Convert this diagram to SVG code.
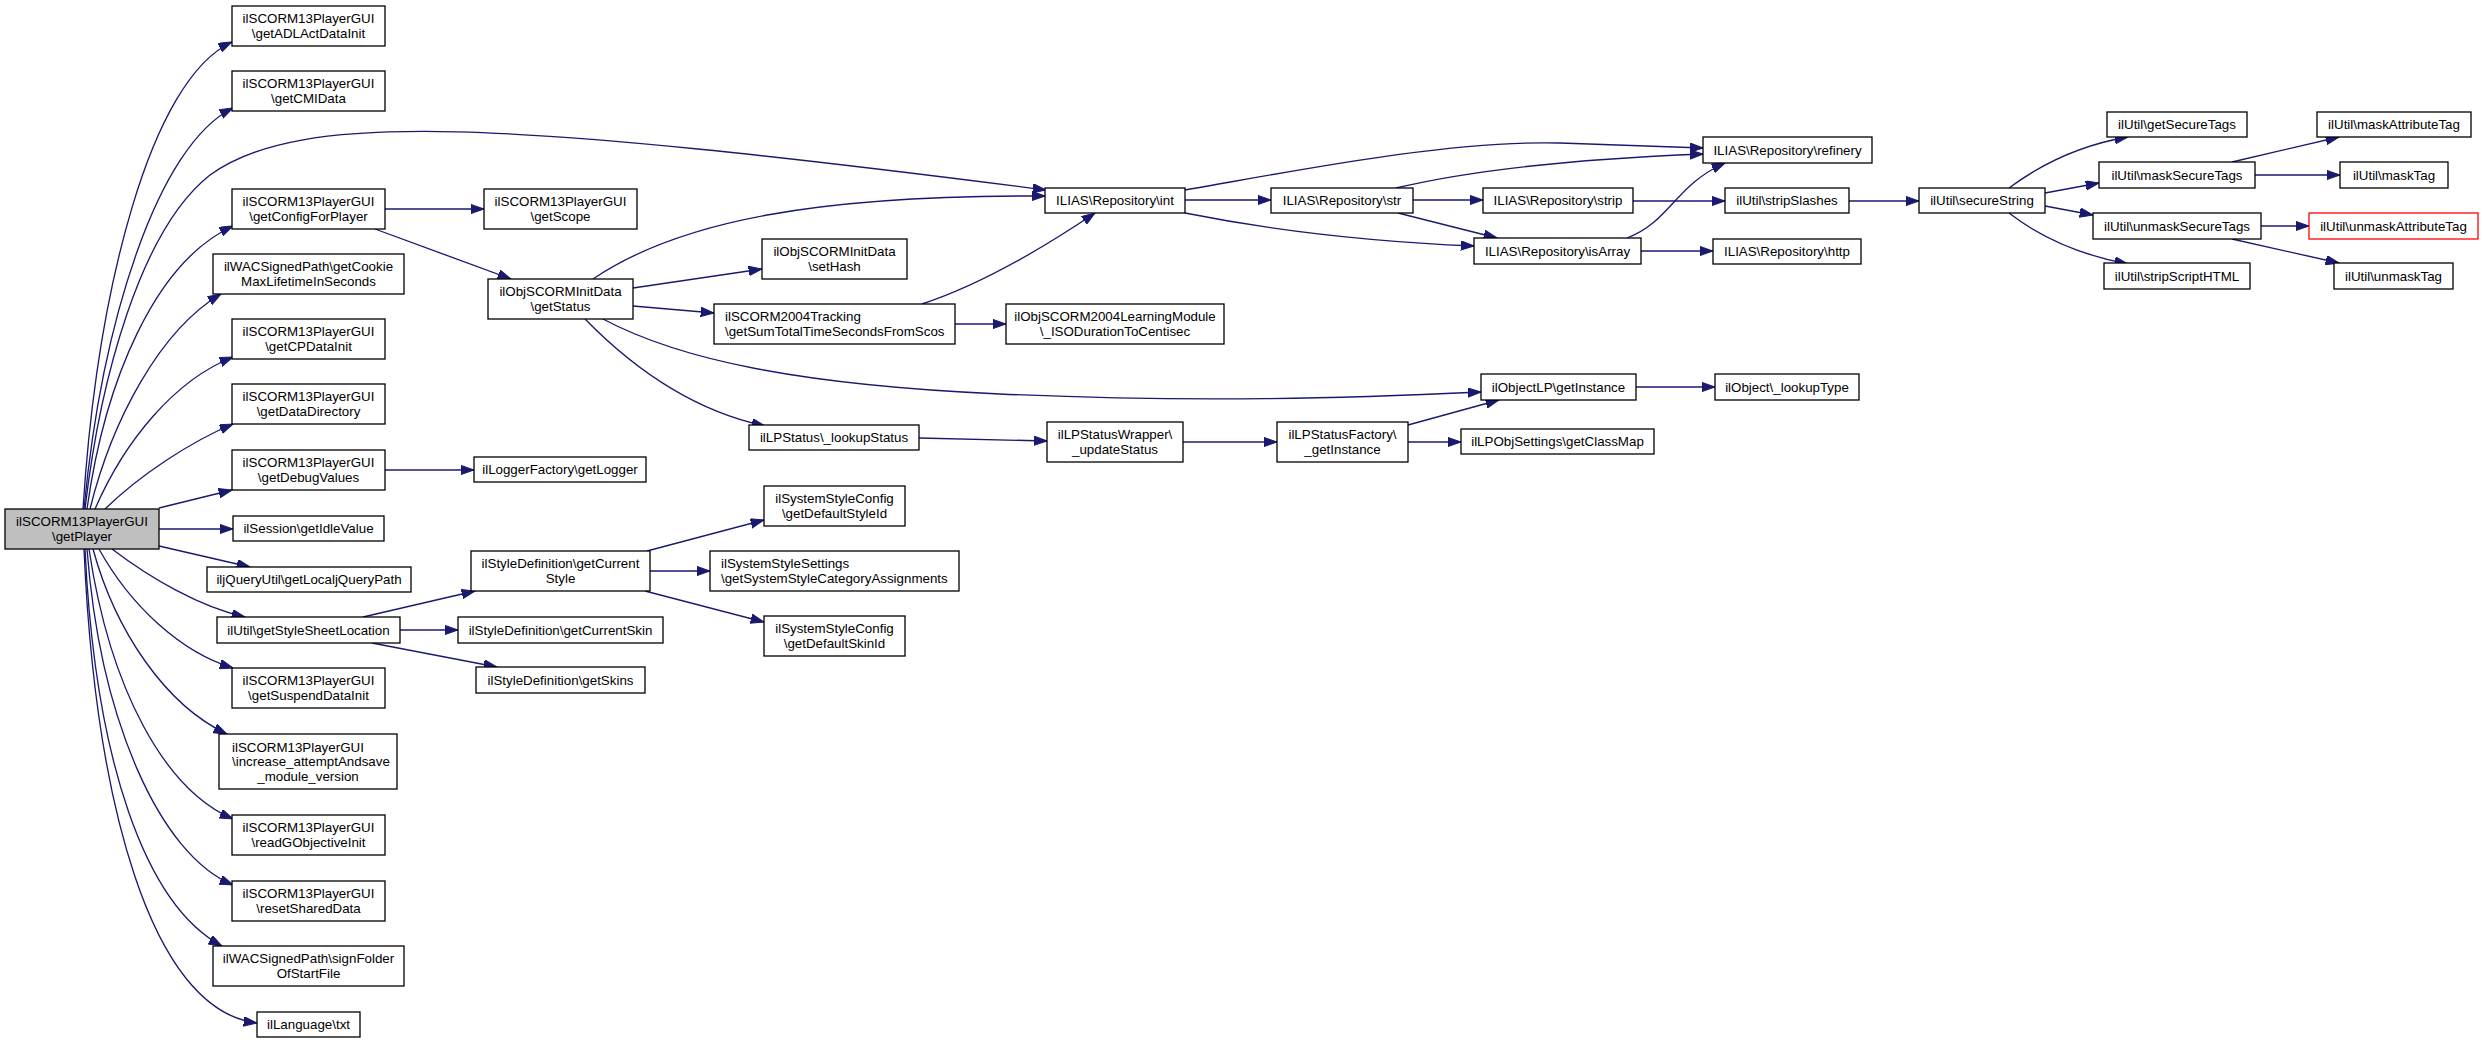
<svg xmlns="http://www.w3.org/2000/svg" width="2484" height="1043" viewBox="0 0 2484 1043">
<style>
.n rect{fill:#fff;stroke:#000;stroke-width:1.3}
.n.root rect{fill:#bfbfbf}
.n.red rect{stroke:#f00}
text{font-family:"Liberation Sans",Arial,Helvetica,sans-serif;font-size:13.33px;fill:#000}
.c{text-anchor:middle}
.e path{fill:none;stroke:#191970;stroke-width:1.33;marker-end:url(#arr)}
</style>
<defs>
<marker id="arr" markerUnits="userSpaceOnUse" viewBox="0 0 14 10" markerWidth="14" markerHeight="10" refX="13.3" refY="4.7" orient="auto">
<path d="M0,0 L13.3,4.7 L0,9.4 z" fill="#191970" stroke="#191970" stroke-width="1"/>
</marker>
</defs>
<rect width="2484" height="1043" fill="#fff"/>
<g class="e" id="edges">
<path d="M83,509 C97,290 150,80 232,42"/>
<path d="M84,509 C102,320 158,145 233,108"/>
<path d="M85,509 C100,380 140,230 210,175 C300,110 500,120 1046,190"/>
<path d="M87,509 C105,380 155,262 233,226"/>
<path d="M90,509 C112,420 160,330 221,294"/>
<path d="M95,509 C125,440 175,380 233,357"/>
<path d="M105,509 C140,475 190,442 233,424"/>
<path d="M159,508 L232,490"/>
<path d="M159,529 L233,529"/>
<path d="M159,546 L250,567"/>
<path d="M112,549 C150,578 200,607 245,617"/>
<path d="M99,549 C130,605 180,652 233,668"/>
<path d="M93,549 C115,630 165,705 227,734"/>
<path d="M89,549 C110,690 165,790 233,819"/>
<path d="M87,549 C100,720 160,855 233,885"/>
<path d="M85,549 C95,760 145,905 222,946"/>
<path d="M84,549 C95,800 150,1010 257,1023"/>
<path d="M385,209 L484,209"/>
<path d="M375,229 L511,279"/>
<path d="M593,279 C680,220 820,195 1045,196"/>
<path d="M633,288 L762,269"/>
<path d="M633,306 L714,313"/>
<path d="M603,319 C680,360 800,385 1000,394 C1200,403 1350,398 1481,392"/>
<path d="M585,319 C630,365 690,410 765,426"/>
<path d="M385,470 L474,470"/>
<path d="M363,617 L475,591"/>
<path d="M400,630 L458,630"/>
<path d="M372,643 L497,667"/>
<path d="M647,551 L764,520"/>
<path d="M650,571 L710,571"/>
<path d="M645,591 L764,622"/>
<path d="M922,304 C980,285 1040,250 1095,213"/>
<path d="M955,324 L1006,324"/>
<path d="M919,438 L1047,441"/>
<path d="M1185,200 L1271,200"/>
<path d="M1185,190 C1300,170 1450,140 1560,143 C1620,145 1670,147 1703,148"/>
<path d="M1185,213 C1280,232 1380,242 1474,246"/>
<path d="M1183,442 L1277,442"/>
<path d="M1413,200 L1483,200"/>
<path d="M1396,188 C1480,168 1600,158 1703,154"/>
<path d="M1398,213 L1497,238"/>
<path d="M1408,425 L1499,400"/>
<path d="M1408,442 L1461,442"/>
<path d="M1633,201 L1725,201"/>
<path d="M1627,238 C1670,222 1675,185 1725,163"/>
<path d="M1641,251 L1713,251"/>
<path d="M1636,387 L1715,387"/>
<path d="M1849,201 L1919,201"/>
<path d="M2009,188 C2040,165 2080,145 2128,137"/>
<path d="M2045,193 L2099,183"/>
<path d="M2045,206 L2093,215"/>
<path d="M2009,213 C2040,237 2080,255 2128,264"/>
<path d="M2232,162 L2339,137"/>
<path d="M2255,175 L2340,175"/>
<path d="M2261,226 L2309,226"/>
<path d="M2232,239 L2339,263"/>
</g>
<g class="n root" id="n_getPlayer"><rect x="5" y="509" width="154" height="40"/><text class="c" x="82" y="526">ilSCORM13PlayerGUI</text><text class="c" x="82" y="540.5">\getPlayer</text></g>
<g class="n" id="n_getADLActDataInit"><rect x="232" y="6" width="153" height="40"/><text class="c" x="308.5" y="23">ilSCORM13PlayerGUI</text><text class="c" x="308.5" y="37.5">\getADLActDataInit</text></g>
<g class="n" id="n_getCMIData"><rect x="232" y="71" width="153" height="40"/><text class="c" x="308.5" y="88">ilSCORM13PlayerGUI</text><text class="c" x="308.5" y="102.5">\getCMIData</text></g>
<g class="n" id="n_getConfigForPlayer"><rect x="232" y="189" width="153" height="40"/><text class="c" x="308.5" y="206">ilSCORM13PlayerGUI</text><text class="c" x="308.5" y="220.5">\getConfigForPlayer</text></g>
<g class="n" id="n_getCookie"><rect x="213" y="254" width="191" height="40"/><text class="c" x="308.5" y="271">ilWACSignedPath\getCookie</text><text class="c" x="308.5" y="285.5">MaxLifetimeInSeconds</text></g>
<g class="n" id="n_getCPDataInit"><rect x="232" y="319" width="153" height="40"/><text class="c" x="308.5" y="336">ilSCORM13PlayerGUI</text><text class="c" x="308.5" y="350.5">\getCPDataInit</text></g>
<g class="n" id="n_getDataDirectory"><rect x="232" y="384" width="153" height="40"/><text class="c" x="308.5" y="401">ilSCORM13PlayerGUI</text><text class="c" x="308.5" y="415.5">\getDataDirectory</text></g>
<g class="n" id="n_getDebugValues"><rect x="232" y="450" width="153" height="40"/><text class="c" x="308.5" y="467">ilSCORM13PlayerGUI</text><text class="c" x="308.5" y="481.5">\getDebugValues</text></g>
<g class="n" id="n_getIdleValue"><rect x="233" y="516" width="151" height="25"/><text class="c" x="308.5" y="533">ilSession\getIdleValue</text></g>
<g class="n" id="n_getLocaljQueryPath"><rect x="207" y="567" width="204" height="25"/><text class="c" x="309" y="584">iljQueryUtil\getLocaljQueryPath</text></g>
<g class="n" id="n_getStyleSheetLocation"><rect x="217" y="617" width="183" height="26"/><text class="c" x="308.5" y="634.5">ilUtil\getStyleSheetLocation</text></g>
<g class="n" id="n_getSuspendDataInit"><rect x="232" y="668" width="153" height="40"/><text class="c" x="308.5" y="685">ilSCORM13PlayerGUI</text><text class="c" x="308.5" y="699.5">\getSuspendDataInit</text></g>
<g class="n" id="n_increase"><rect x="219" y="734" width="178" height="55"/><text x="232" y="751.5">ilSCORM13PlayerGUI</text><text x="232" y="766">\increase_attemptAndsave</text><text class="c" x="308" y="780.5">_module_version</text></g>
<g class="n" id="n_readGObjectiveInit"><rect x="232" y="815" width="153" height="40"/><text class="c" x="308.5" y="832">ilSCORM13PlayerGUI</text><text class="c" x="308.5" y="846.5">\readGObjectiveInit</text></g>
<g class="n" id="n_resetSharedData"><rect x="232" y="881" width="153" height="40"/><text class="c" x="308.5" y="898">ilSCORM13PlayerGUI</text><text class="c" x="308.5" y="912.5">\resetSharedData</text></g>
<g class="n" id="n_signFolder"><rect x="213" y="946" width="191" height="40"/><text class="c" x="308.5" y="963">ilWACSignedPath\signFolder</text><text class="c" x="308.5" y="977.5">OfStartFile</text></g>
<g class="n" id="n_txt"><rect x="257" y="1012" width="103" height="25"/><text class="c" x="308.5" y="1029">ilLanguage\txt</text></g>
<g class="n" id="n_getScope"><rect x="484" y="189" width="153" height="40"/><text class="c" x="560.5" y="206">ilSCORM13PlayerGUI</text><text class="c" x="560.5" y="220.5">\getScope</text></g>
<g class="n" id="n_getStatus"><rect x="488" y="279" width="145" height="40"/><text class="c" x="560.5" y="296">ilObjSCORMInitData</text><text class="c" x="560.5" y="310.5">\getStatus</text></g>
<g class="n" id="n_getLogger"><rect x="474" y="457" width="172" height="25"/><text class="c" x="560" y="474">ilLoggerFactory\getLogger</text></g>
<g class="n" id="n_getCurrentStyle"><rect x="471" y="551" width="179" height="40"/><text class="c" x="560.5" y="568">ilStyleDefinition\getCurrent</text><text class="c" x="560.5" y="582.5">Style</text></g>
<g class="n" id="n_getCurrentSkin"><rect x="458" y="617" width="205" height="26"/><text class="c" x="560.5" y="634.5">ilStyleDefinition\getCurrentSkin</text></g>
<g class="n" id="n_getSkins"><rect x="476" y="667" width="169" height="26"/><text class="c" x="560.5" y="684.5">ilStyleDefinition\getSkins</text></g>
<g class="n" id="n_setHash"><rect x="762" y="239" width="145" height="40"/><text class="c" x="834.5" y="256">ilObjSCORMInitData</text><text class="c" x="834.5" y="270.5">\setHash</text></g>
<g class="n" id="n_getSumTotal"><rect x="714" y="304" width="241" height="40"/><text x="725" y="321">ilSCORM2004Tracking</text><text x="725" y="335.5">\getSumTotalTimeSecondsFromScos</text></g>
<g class="n" id="n_lookupStatus"><rect x="749" y="425" width="170" height="25"/><text class="c" x="834" y="442">ilLPStatus\_lookupStatus</text></g>
<g class="n" id="n_getDefaultStyleId"><rect x="764" y="486" width="141" height="40"/><text class="c" x="834.5" y="503">ilSystemStyleConfig</text><text class="c" x="834.5" y="517.5">\getDefaultStyleId</text></g>
<g class="n" id="n_getSystemStyleCategoryAssignments"><rect x="710" y="551" width="249" height="40"/><text x="721" y="568">ilSystemStyleSettings</text><text x="721" y="582.5">\getSystemStyleCategoryAssignments</text></g>
<g class="n" id="n_getDefaultSkinId"><rect x="764" y="616" width="141" height="40"/><text class="c" x="834.5" y="633">ilSystemStyleConfig</text><text class="c" x="834.5" y="647.5">\getDefaultSkinId</text></g>
<g class="n" id="n_int"><rect x="1045" y="188" width="140" height="25"/><text class="c" x="1115" y="205">ILIAS\Repository\int</text></g>
<g class="n" id="n_ISODuration"><rect x="1006" y="304" width="218" height="40"/><text class="c" x="1115" y="321">ilObjSCORM2004LearningModule</text><text class="c" x="1115" y="335.5">\_ISODurationToCentisec</text></g>
<g class="n" id="n_updateStatus"><rect x="1047" y="422" width="136" height="40"/><text class="c" x="1115" y="439">ilLPStatusWrapper\</text><text class="c" x="1115" y="453.5">_updateStatus</text></g>
<g class="n" id="n_str"><rect x="1271" y="188" width="142" height="25"/><text class="c" x="1342" y="205">ILIAS\Repository\str</text></g>
<g class="n" id="n_LPStatusFactory"><rect x="1277" y="422" width="131" height="40"/><text class="c" x="1342.5" y="439">ilLPStatusFactory\</text><text class="c" x="1342.5" y="453.5">_getInstance</text></g>
<g class="n" id="n_strip"><rect x="1483" y="188" width="150" height="25"/><text class="c" x="1558" y="205">ILIAS\Repository\strip</text></g>
<g class="n" id="n_isArray"><rect x="1474" y="238" width="167" height="26"/><text class="c" x="1557.5" y="255.5">ILIAS\Repository\isArray</text></g>
<g class="n" id="n_ObjectLP"><rect x="1481" y="374" width="155" height="26"/><text class="c" x="1558.5" y="391.5">ilObjectLP\getInstance</text></g>
<g class="n" id="n_getClassMap"><rect x="1461" y="429" width="193" height="25"/><text class="c" x="1557.5" y="446">ilLPObjSettings\getClassMap</text></g>
<g class="n" id="n_refinery"><rect x="1703" y="137" width="169" height="26"/><text class="c" x="1787.5" y="154.5">ILIAS\Repository\refinery</text></g>
<g class="n" id="n_stripSlashes"><rect x="1725" y="188" width="124" height="25"/><text class="c" x="1787" y="205">ilUtil\stripSlashes</text></g>
<g class="n" id="n_http"><rect x="1713" y="239" width="148" height="25"/><text class="c" x="1787" y="256">ILIAS\Repository\http</text></g>
<g class="n" id="n_lookupType"><rect x="1715" y="374" width="144" height="26"/><text class="c" x="1787" y="391.5">ilObject\_lookupType</text></g>
<g class="n" id="n_secureString"><rect x="1919" y="188" width="126" height="25"/><text class="c" x="1982" y="205">ilUtil\secureString</text></g>
<g class="n" id="n_getSecureTags"><rect x="2107" y="112" width="140" height="25"/><text class="c" x="2177" y="129">ilUtil\getSecureTags</text></g>
<g class="n" id="n_maskSecureTags"><rect x="2099" y="162" width="156" height="26"/><text class="c" x="2177" y="179.5">ilUtil\maskSecureTags</text></g>
<g class="n" id="n_unmaskSecureTags"><rect x="2093" y="213" width="168" height="26"/><text class="c" x="2177" y="230.5">ilUtil\unmaskSecureTags</text></g>
<g class="n" id="n_stripScriptHTML"><rect x="2104" y="263" width="146" height="26"/><text class="c" x="2177" y="280.5">ilUtil\stripScriptHTML</text></g>
<g class="n" id="n_maskAttributeTag"><rect x="2317" y="112" width="154" height="25"/><text class="c" x="2394" y="129">ilUtil\maskAttributeTag</text></g>
<g class="n" id="n_maskTag"><rect x="2340" y="162" width="108" height="26"/><text class="c" x="2394" y="179.5">ilUtil\maskTag</text></g>
<g class="n red" id="n_unmaskAttributeTag"><rect x="2309" y="213" width="169" height="26"/><text class="c" x="2393.5" y="230.5">ilUtil\unmaskAttributeTag</text></g>
<g class="n" id="n_unmaskTag"><rect x="2334" y="263" width="119" height="26"/><text class="c" x="2393.5" y="280.5">ilUtil\unmaskTag</text></g>
</svg>
